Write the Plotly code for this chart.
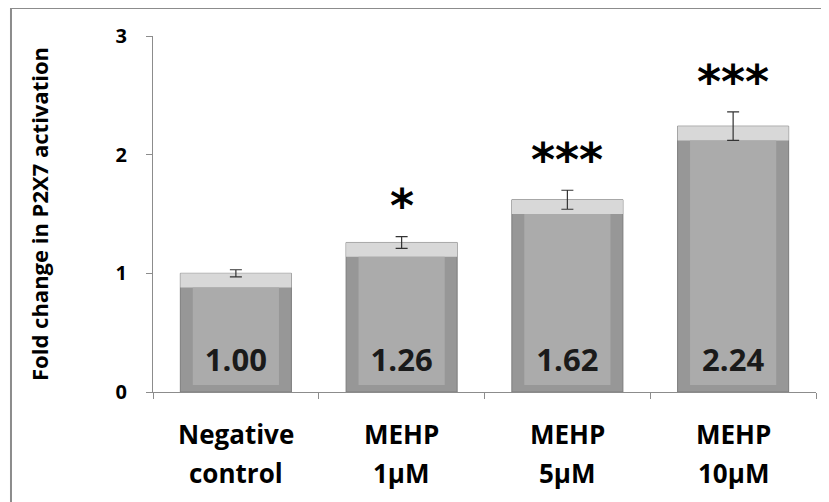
import plotly.graph_objects as go

categories_line1 = ["Negative", "MEHP", "MEHP", "MEHP"]
categories_line2 = ["control", "1µM", "5µM", "10µM"]
values = [1.00, 1.26, 1.62, 2.24]
errors = [0.03, 0.05, 0.08, 0.12]
significance = ["", "*", "***", "***"]
value_labels = ["1.00", "1.26", "1.62", "2.24"]
y_ticks = [0, 1, 2, 3]

FONT = "'Open Sans', sans-serif"
BAR_W = 0.67
BEVEL_Y = 0.12
BEVEL_X = 0.075

x = list(range(len(values)))

fig = go.Figure()
# outer bar (sides / bottom bevel)
fig.add_trace(go.Bar(x=x, y=values, width=BAR_W,
                     marker=dict(color="#979797", line=dict(width=1, color="#7c7c7c")),
                     hoverinfo="skip", showlegend=False))
# light top bevel
fig.add_trace(go.Bar(x=x, y=[BEVEL_Y] * len(values), base=[v - BEVEL_Y for v in values], width=BAR_W,
                     marker=dict(color="#d8d8d8", line=dict(width=0)), hoverinfo="skip", showlegend=False))
# body
fig.add_trace(go.Bar(x=x, y=[v - BEVEL_Y - 0.06 for v in values], base=[0.06] * len(values),
                     width=BAR_W - 2 * BEVEL_X,
                     marker=dict(color="#ababab", line=dict(width=0)), hoverinfo="skip", showlegend=False))
# error bars
fig.add_trace(go.Scatter(x=x, y=values, mode="markers", marker=dict(size=0.1, color="rgba(0,0,0,0)"),
                         error_y=dict(type="data", array=errors, visible=True, color="#333333",
                                      thickness=1.2, width=6),
                         hoverinfo="skip", showlegend=False))
# value labels inside bars
fig.add_trace(go.Scatter(x=x, y=[0.245] * len(values), mode="text",
                         text=["<b>" + t + "</b>" for t in value_labels],
                         textfont=dict(family=FONT, size=31, color="#1a1a1a"),
                         hoverinfo="skip", showlegend=False))

for xi, v, e, s in zip(x, values, errors, significance):
    if s:
        fig.add_annotation(x=xi, y=v + e + 0.01, text="<b>" + s + "</b>", showarrow=False,
                           yanchor="bottom", font=dict(family="DejaVu Sans", size=46, color="#000000"))

# two-line category labels
for xi, l1, l2 in zip(x, categories_line1, categories_line2):
    fig.add_annotation(x=xi, xref="x", y=-0.118, yref="paper", text="<b>" + l1 + "</b>", showarrow=False,
                       yanchor="middle", font=dict(family=FONT, size=26, color="#000000"))
    fig.add_annotation(x=xi, xref="x", y=-0.228, yref="paper", text="<b>" + l2 + "</b>", showarrow=False,
                       yanchor="middle", font=dict(family=FONT, size=26, color="#000000"))

# outer frame
fig.add_shape(type="rect", xref="paper", yref="paper", x0=-0.2142, x1=1.05, y0=-0.40, y1=1.0787,
              line=dict(color="#8c8c8c", width=2), fillcolor="rgba(0,0,0,0)", layer="below")

fig.update_layout(
    width=821, height=494,
    margin=dict(l=145, r=13, t=28, b=110),
    paper_bgcolor="white", plot_bgcolor="white",
    barmode="overlay",
    font=dict(family=FONT, color="#000000"),
    xaxis=dict(
        range=[-0.5, len(values) - 0.5],
        showline=True, linecolor="#8c8c8c", linewidth=1,
        tickmode="array", tickvals=[i - 0.5 for i in range(len(values) + 1)],
        ticks="outside", ticklen=6, tickcolor="#8c8c8c", tickwidth=1, showticklabels=False,
        showgrid=False, zeroline=False,
    ),
    yaxis=dict(
        range=[0, 3], tickmode="array", tickvals=y_ticks, ticktext=["<b>%d</b>" % t for t in y_ticks],
        showline=True, linecolor="#8c8c8c", linewidth=1,
        ticks="outside", ticklen=6, tickcolor="#8c8c8c", ticklabelstandoff=15,
        showgrid=False, zeroline=False,
        tickfont=dict(family=FONT, size=20, color="#000000"),
        title=dict(text="<b>Fold change in P2X7 activation</b>", font=dict(family=FONT, size=22), standoff=60),
    ),
)

fig.write_html("out.html")
